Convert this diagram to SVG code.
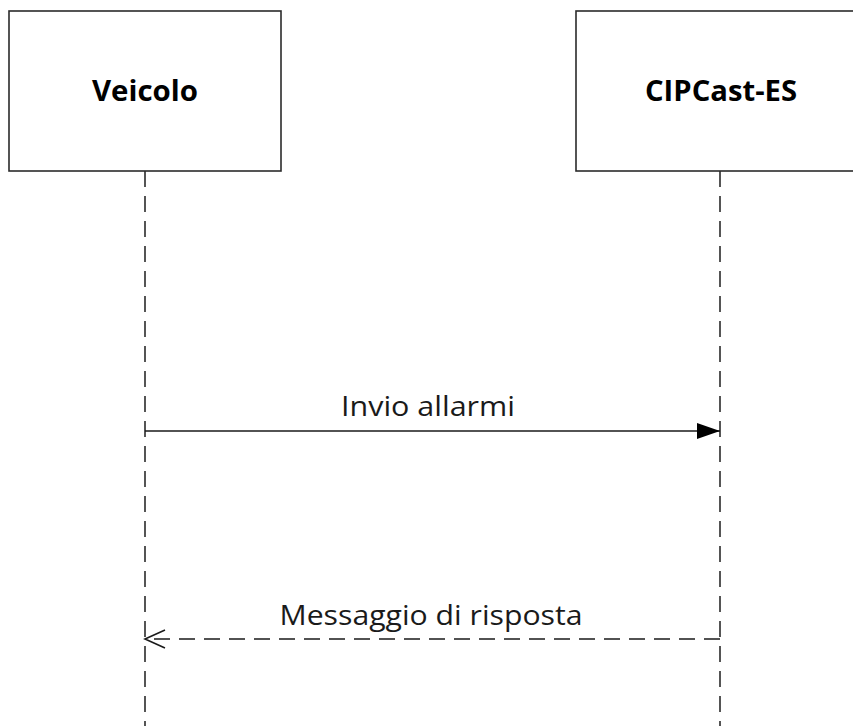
<svg xmlns="http://www.w3.org/2000/svg" width="853" height="726" viewBox="0 0 853 726">
<style>
.box{fill:#fff;stroke:#2b2b2b;stroke-width:1.6}
.life{stroke:#2b2b2b;stroke-width:1.6;stroke-dasharray:16 9;fill:none}
.msg{stroke:#1a1a1a;stroke-width:1.6;fill:none}
.title{font-family:"Open Sans","Liberation Sans",sans-serif;font-weight:bold;font-size:29px;fill:#000}
.lbl{font-family:"Open Sans","Liberation Sans",sans-serif;font-size:27px;fill:#1a1a1a}
</style>
<defs>
<marker id="filled" markerWidth="24" markerHeight="18" refX="23" refY="9" orient="auto" markerUnits="userSpaceOnUse">
<path d="M0,1 L23,9 L0,17 Z" fill="#000"/>
</marker>
<marker id="open" markerWidth="24" markerHeight="20" refX="21" refY="10" orient="auto" markerUnits="userSpaceOnUse">
<path d="M1,1 L21,10 L1,19" fill="none" stroke="#1a1a1a" stroke-width="1.6"/>
</marker>
</defs>
<g id="node-veicolo">
<rect class="box" x="9" y="11" width="272" height="160"/>
<text class="title" x="145" y="101" text-anchor="middle" textLength="106" lengthAdjust="spacingAndGlyphs">Veicolo</text>
</g>
<g id="node-cipcast">
<rect class="box" x="576" y="11" width="290" height="160"/>
<text class="title" x="721" y="101" text-anchor="middle" textLength="152" lengthAdjust="spacingAndGlyphs">CIPCast-ES</text>
</g>
<g id="connectors">
<line class="life" x1="145" y1="171" x2="145" y2="726"/>
<line class="life" x1="720" y1="171" x2="720" y2="726"/>
<line class="msg" x1="145" y1="431" x2="720" y2="431" marker-end="url(#filled)"/>
<line class="msg" x1="720" y1="639" x2="145" y2="639" stroke-dasharray="16 9" marker-end="url(#open)"/>
<text class="lbl" x="428" y="416" text-anchor="middle" textLength="174" lengthAdjust="spacingAndGlyphs">Invio allarmi</text>
<text class="lbl" x="431" y="625" text-anchor="middle" textLength="303" lengthAdjust="spacingAndGlyphs">Messaggio di risposta</text>
</g>
</svg>
